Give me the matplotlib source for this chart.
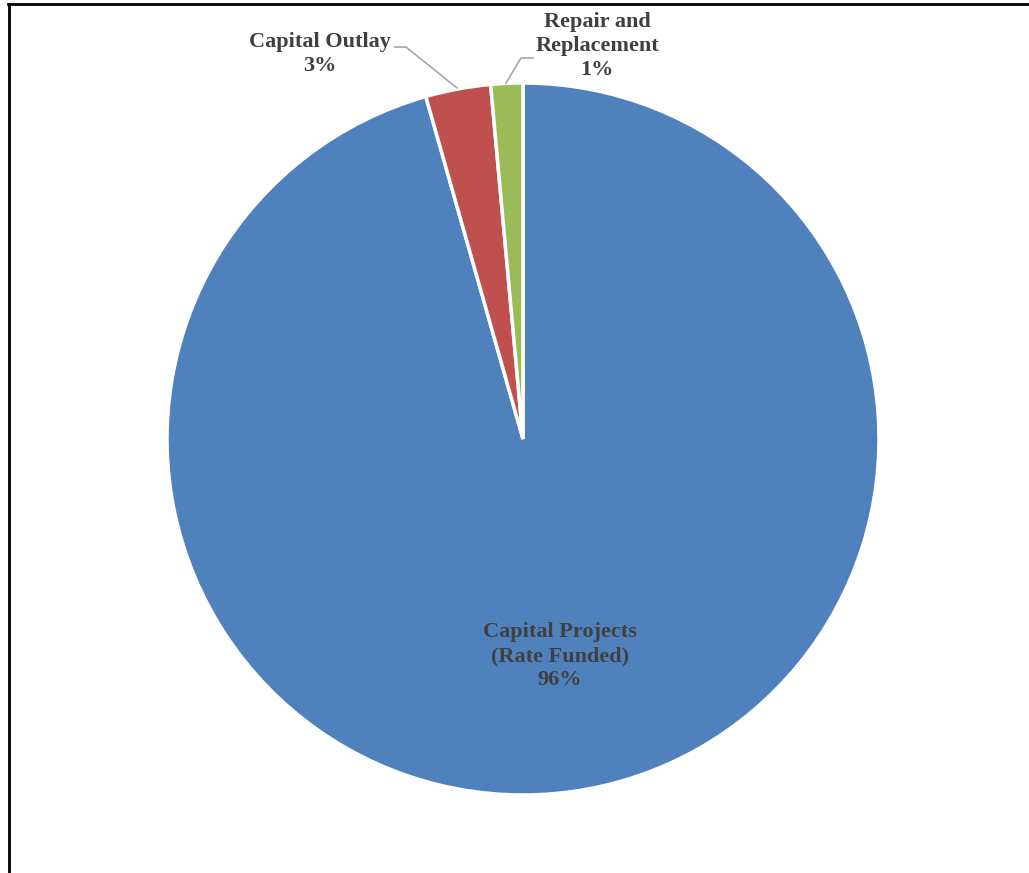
import matplotlib.pyplot as plt
from matplotlib.lines import Line2D

labels = ['Capital Projects\n(Rate Funded)', 'Capital Outlay', 'Repair and\nReplacement']
values = [95.6, 2.95, 1.45]
colors = ['#4F81BD', '#C0504D', '#9BBB59']

W, H = 1029, 873
fig = plt.figure(figsize=(W / 100, H / 100), dpi=100)
ax = fig.add_axes([0, 0, 1, 1])

ax.pie(values, colors=colors, startangle=90, counterclock=False,
       center=(523, H - 439), radius=356,
       wedgeprops=dict(edgecolor='white', linewidth=2.5))
ax.set_xlim(0, W)
ax.set_ylim(0, H)
ax.set_aspect('equal')
ax.axis('off')

total = sum(values)
pcts = ['%.0f%%' % (v / total * 100) for v in values]
font = dict(family='Liberation Serif', fontweight='bold', fontsize=16,
            color='#404040', ha='center', va='center', linespacing=1.28)

ax.text(560, H - 656, labels[0] + '\n' + pcts[0], **font)
ax.text(320, H - 54, labels[1] + '\n' + pcts[1], **font)
ax.text(597, H - 46, labels[2] + '\n' + pcts[2], **font)

# leader lines for the small slices
ax.plot([395, 406, 457], [H - 47, H - 47, H - 88], color='#A6A6A6', lw=1.2)
ax.plot([533, 521, 506], [H - 58, H - 58, H - 83], color='#A6A6A6', lw=1.2)

# chart frame (only top and left edges fall inside the image)
fig.add_artist(Line2D([8.5 / W, 8.5 / W], [0, 1 - 4 / H], transform=fig.transFigure,
                      color='black', lw=2))
fig.add_artist(Line2D([8 / W, 1], [1 - 4 / H, 1 - 4 / H], transform=fig.transFigure,
                      color='black', lw=2))

fig.savefig('out.png', dpi=100)
